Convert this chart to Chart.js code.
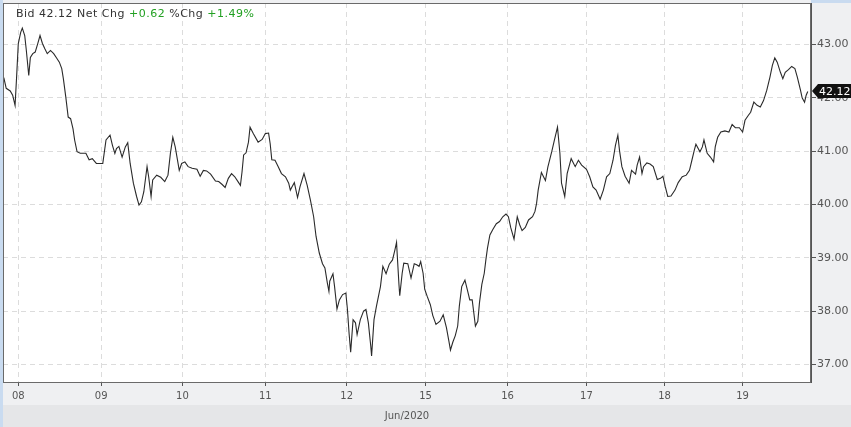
<!DOCTYPE html>
<html>
<head>
<meta charset="utf-8">
<script src="https://cdn.jsdelivr.net/npm/chart.js@4.4.1/dist/chart.umd.min.js"></script>
<style>
  body { margin: 0; background: #eff0f2; }
  canvas { display: block; }
</style>
</head>
<body>
<canvas id="myChart" width="851" height="427"></canvas>
<script>
// Bid price, Jun 08 - Jun 19 2020 (x = trading day position, 08 = 0)
const times = [
  -0.18, -0.15, -0.10, -0.07, -0.04, -0.02, 0.00, 0.03, 0.05, 0.08,
  0.10, 0.13, 0.15, 0.18, 0.21, 0.24, 0.27, 0.30, 0.33, 0.36,
  0.40, 0.44, 0.48, 0.51, 0.54, 0.56, 0.59, 0.62, 0.65, 0.68,
  0.70, 0.73, 0.77, 0.84, 0.88, 0.92, 0.97, 1.05, 1.09, 1.14,
  1.17, 1.20, 1.22, 1.25, 1.29, 1.33, 1.36, 1.39, 1.43, 1.47,
  1.50, 1.53, 1.56, 1.60, 1.62, 1.65, 1.67, 1.72, 1.77, 1.82,
  1.86, 1.89, 1.92, 1.95, 2.00, 2.03, 2.07, 2.11, 2.16, 2.22,
  2.26, 2.30, 2.34, 2.39, 2.45, 2.49, 2.53, 2.57, 2.61, 2.65,
  2.69, 2.73, 2.76, 2.78, 2.80, 2.83, 2.86, 2.88, 2.92, 2.98,
  3.03, 3.07, 3.11, 3.13, 3.15, 3.19, 3.23, 3.27, 3.32, 3.36,
  3.38, 3.40, 3.43, 3.47, 3.50, 3.55, 3.59, 3.63, 3.67, 3.70,
  3.74, 3.78, 3.81, 3.84, 3.86, 3.87, 3.91, 3.93, 3.96, 3.99,
  4.03, 4.07, 4.09, 4.11, 4.13, 4.16, 4.19, 4.21, 4.25, 4.29,
  4.32, 4.35, 4.38, 4.39, 4.42, 4.45, 4.50, 4.53, 4.57, 4.61,
  4.65, 4.68, 4.70, 4.71, 4.73, 4.74, 4.77, 4.79, 4.84, 4.88,
  4.92, 4.95, 4.98, 5.00, 5.03, 5.05, 5.08, 5.12, 5.15, 5.19,
  5.24, 5.28, 5.32, 5.35, 5.37, 5.40, 5.43, 5.46, 5.48, 5.51,
  5.55, 5.58, 5.61, 5.64, 5.66, 5.68, 5.71, 5.73, 5.76, 5.79,
  5.81, 5.83, 5.86, 5.90, 5.94, 5.98, 6.02, 6.06, 6.09, 6.12,
  6.16, 6.20, 6.23, 6.26, 6.30, 6.34, 6.39, 6.42, 6.44, 6.46,
  6.50, 6.55, 6.58, 6.63, 6.66, 6.70, 6.73, 6.75, 6.79, 6.82,
  6.87, 6.92, 6.96, 7.00, 7.06, 7.10, 7.14, 7.18, 7.23, 7.27,
  7.31, 7.35, 7.39, 7.42, 7.45, 7.47, 7.50, 7.54, 7.59, 7.62,
  7.67, 7.69, 7.72, 7.75, 7.77, 7.81, 7.85, 7.89, 7.94, 7.98,
  8.01, 8.04, 8.07, 8.11, 8.16, 8.20, 8.25, 8.30, 8.34, 8.37,
  8.40, 8.42, 8.47, 8.50, 8.52, 8.56, 8.60, 8.64, 8.66, 8.69,
  8.73, 8.78, 8.83, 8.87, 8.91, 8.96, 9.00, 9.03, 9.07, 9.10,
  9.14, 9.18, 9.22, 9.26, 9.30, 9.34, 9.37, 9.40, 9.43, 9.47,
  9.50, 9.53, 9.57, 9.61, 9.65, 9.68, 9.72, 9.74, 9.77, 9.79,
  9.81
];

const prices = [
  42.38, 42.18, 42.13, 42.05, 41.86, 42.42, 43.02, 43.23, 43.31, 43.17,
  42.89, 42.42, 42.76, 42.83, 42.86, 43.01, 43.17, 43.02, 42.92, 42.83,
  42.89, 42.83, 42.74, 42.67, 42.55, 42.36, 42.02, 41.64, 41.61, 41.42,
  41.21, 40.99, 40.96, 40.96, 40.84, 40.86, 40.77, 40.77, 41.21, 41.30,
  41.11, 40.96, 41.05, 41.09, 40.89, 41.08, 41.16, 40.77, 40.40, 40.15,
  39.99, 40.05, 40.24, 40.71, 40.52, 40.15, 40.46, 40.55, 40.51, 40.43,
  40.55, 40.96, 41.26, 41.08, 40.64, 40.77, 40.80, 40.71, 40.68, 40.66,
  40.53, 40.64, 40.63, 40.57, 40.44, 40.43, 40.38, 40.32, 40.49, 40.58,
  40.52, 40.43, 40.36, 40.61, 40.93, 40.97, 41.17, 41.45, 41.33, 41.17,
  41.22, 41.33, 41.34, 41.14, 40.84, 40.83, 40.71, 40.58, 40.52, 40.40,
  40.27, 40.33, 40.41, 40.13, 40.33, 40.58, 40.36, 40.08, 39.77, 39.40,
  39.09, 38.89, 38.81, 38.53, 38.37, 38.56, 38.70, 38.46, 38.04, 38.21,
  38.31, 38.34, 38.03, 37.59, 37.23, 37.84, 37.78, 37.56, 37.84, 38.00,
  38.03, 37.78, 37.34, 37.16, 37.84, 38.09, 38.46, 38.84, 38.70, 38.88,
  38.96, 39.15, 39.29, 39.02, 38.50, 38.29, 38.71, 38.90, 38.89, 38.62,
  38.89, 38.87, 38.84, 38.93, 38.71, 38.41, 38.28, 38.12, 37.92, 37.75,
  37.81, 37.93, 37.69, 37.44, 37.27, 37.42, 37.54, 37.72, 38.09, 38.46,
  38.58, 38.40, 38.21, 38.21, 37.97, 37.72, 37.81, 38.15, 38.50, 38.71,
  38.96, 39.18, 39.43, 39.54, 39.64, 39.68, 39.77, 39.82, 39.77, 39.56,
  39.35, 39.77, 39.62, 39.51, 39.57, 39.71, 39.77, 39.87, 40.02, 40.27,
  40.60, 40.45, 40.70, 41.00, 41.20, 41.45, 40.96, 40.40, 40.15, 40.58,
  40.86, 40.71, 40.83, 40.74, 40.66, 40.52, 40.33, 40.27, 40.10, 40.27,
  40.52, 40.58, 40.83, 41.11, 41.30, 41.02, 40.71, 40.53, 40.40, 40.64,
  40.57, 40.74, 40.89, 40.58, 40.71, 40.78, 40.76, 40.71, 40.47, 40.49,
  40.53, 40.33, 40.15, 40.16, 40.27, 40.41, 40.52, 40.55, 40.64, 40.83,
  41.02, 41.13, 40.99, 41.08, 41.21, 40.96, 40.89, 40.80, 41.08, 41.26,
  41.36, 41.38, 41.36, 41.50, 41.44, 41.44, 41.36, 41.58, 41.67, 41.73,
  41.92, 41.86, 41.83, 41.95, 42.14, 42.39, 42.61, 42.75, 42.67, 42.48,
  42.36, 42.48, 42.53, 42.59, 42.55, 42.39, 42.14, 42.00, 41.92, 42.05,
  42.12
];

const dayTicks = [0, 1.03, 2.04, 3.07, 4.08, 5.06, 6.08, 7.06, 8.03, 9.0];
const dayLabels = ["08", "09", "10", "11", "12", "15", "16", "17", "18", "19"];
const priceTicks = [37, 38, 39, 40, 41, 42, 43];
const monthLabel = "Jun/2020";
const headerParts = [
  { text: "Bid 42.12 Net Chg ", color: "#333333" },
  { text: "+0.62", color: "#22a022" },
  { text: " %Chg ", color: "#333333" },
  { text: "+1.49%", color: "#22a022" },
];

const FONT = "'DejaVu Sans', sans-serif";

const frame = {
  id: "frame",
  beforeDraw(chart) {
    const { ctx, chartArea: a, width, height } = chart;
    ctx.save();
    ctx.fillStyle = "#eff0f2";
    ctx.fillRect(0, 0, width, height);
    ctx.fillStyle = "#e5e6e8";
    ctx.fillRect(0, 405, width, height - 405);
    ctx.fillStyle = "#c9dbf0";
    ctx.fillRect(0, 0, 3, height);
    ctx.fillRect(a.right, 0, width - a.right, 3);
    ctx.fillStyle = "#ffffff";
    ctx.fillRect(a.left, a.top, a.right - a.left, a.bottom - a.top);
    ctx.restore();
  },
  afterDraw(chart) {
    const { ctx, chartArea: a } = chart;
    ctx.save();
    // plot frame
    ctx.strokeStyle = "#6a6a6a";
    ctx.lineWidth = 1;
    ctx.strokeRect(a.left + 0.5, a.top + 0.5, a.right - a.left - 1, a.bottom - a.top);

    // header text
    ctx.font = "11px " + FONT;
    ctx.letterSpacing = "0.5px";
    ctx.textBaseline = "middle";
    let x = a.left + 13;
    headerParts.forEach((p) => {
      ctx.fillStyle = p.color;
      ctx.fillText(p.text, x, 14);
      x += ctx.measureText(p.text).width;
    });
    ctx.letterSpacing = "0px";

    // month label
    ctx.font = "10px " + FONT;
    ctx.fillStyle = "#555555";
    ctx.textAlign = "center";
    ctx.fillText(monthLabel, 407, 416);

    // last price tag
    const last = prices[prices.length - 1];
    const y = Math.round(chart.scales.y.getPixelForValue(last));
    const x0 = a.right + 1;
    ctx.fillStyle = "#111111";
    ctx.beginPath();
    ctx.moveTo(x0, y);
    ctx.lineTo(x0 + 6, y - 7);
    ctx.lineTo(chart.width, y - 7);
    ctx.lineTo(chart.width, y + 7);
    ctx.lineTo(x0 + 6, y + 7);
    ctx.closePath();
    ctx.fill();
    ctx.font = "11px " + FONT;
    ctx.fillStyle = "#ffffff";
    ctx.textAlign = "left";
    ctx.fillText(last.toFixed(2), x0 + 7, y + 1);
    ctx.restore();
  },
};

const data = {
  datasets: [
    {
      label: "Bid",
      data: times.map((t, i) => ({ x: t, y: prices[i] })),
      borderColor: "#2a2a2a",
      borderWidth: 1.1,
      pointRadius: 0,
      tension: 0,
      fill: false,
    },
  ],
};

const config = {
  type: "line",
  data: data,
  plugins: [frame],
  options: {
    responsive: false,
    animation: false,
    parsing: false,
    layout: { padding: { left: 3, top: 3, right: 0, bottom: 0 } },
    plugins: {
      legend: { display: false },
      tooltip: { enabled: false },
    },
    scales: {
      x: {
        type: "linear",
        min: -0.19,
        max: 9.85,
        afterBuildTicks: (scale) => {
          scale.ticks = dayTicks.map((v) => ({ value: v }));
        },
        afterFit: (scale) => {
          scale.height = 45;
          scale.paddingLeft = 0;
          scale.paddingRight = 0;
        },
        ticks: {
          autoSkip: false,
          maxRotation: 0,
          padding: 4,
          color: "#555555",
          font: { family: FONT, size: 10 },
          callback: (value, index) => dayLabels[index],
        },
        grid: {
          color: "#dcdcdc",
          tickColor: "#555555",
          tickLength: 4,
        },
        border: { color: "#444444", width: 1, dash: [5, 4] },
      },
      y: {
        position: "right",
        min: 36.67,
        max: 43.78,
        afterBuildTicks: (scale) => {
          scale.ticks = priceTicks.map((v) => ({ value: v }));
        },
        afterFit: (scale) => {
          scale.width = 40;
          scale.paddingTop = 0;
          scale.paddingBottom = 0;
        },
        ticks: {
          padding: 1,
          color: "#555555",
          font: { family: FONT, size: 11 },
          callback: (value) => Number(value).toFixed(2),
        },
        grid: {
          color: "#dcdcdc",
          tickColor: "#555555",
          tickLength: 5,
        },
        border: { color: "#555555", width: 1, dash: [5, 4] },
      },
    },
  },
};

const myChart = new Chart(document.getElementById("myChart"), config);
</script>
</body>
</html>
